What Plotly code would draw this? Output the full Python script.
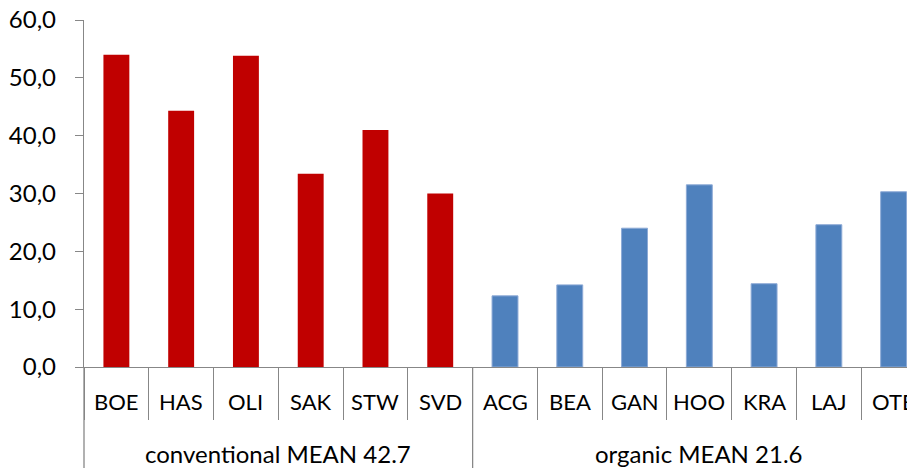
import plotly.graph_objects as go

# ---- data ----
conv_sites = ["BOE", "HAS", "OLI", "SAK", "STW", "SVD"]
conv_values = [54.0, 44.3, 53.8, 33.4, 41.0, 30.0]
org_sites = ["ACG", "BEA", "GAN", "HOO", "KRA", "LAJ", "OTE"]
org_values = [12.3, 14.2, 24.0, 31.5, 14.4, 24.6, 30.3]
group_labels = ["conventional MEAN 42.7", "organic MEAN 21.6"]
y_ticks = [0, 10, 20, 30, 40, 50, 60]

categories = conv_sites + org_sites
FONT = "Lato, Open Sans, sans-serif"
GRAY = "#878787"

fig = go.Figure()
fig.add_bar(x=conv_sites, y=conv_values, width=0.4,
            marker=dict(color="#C00000", line=dict(width=0)), name="conventional")
fig.add_bar(x=org_sites, y=org_values, width=0.4,
            marker=dict(color="#4F81BD", line=dict(color="#8DAAD6", width=1)), name="organic")

annotations = []
for c in categories:
    annotations.append(dict(x=c, xref="x", y=0, yref="paper", yshift=-34,
                            text=c, showarrow=False, yanchor="middle",
                            font=dict(family=FONT, size=22, color="#000000")))
group_pos = [(len(conv_sites) - 1) / 2, len(conv_sites) + (len(org_sites) - 1) / 2]
for lbl, xp in zip(group_labels, group_pos):
    annotations.append(dict(x=xp, xref="x", y=0, yref="paper", yshift=-86,
                            text=lbl, showarrow=False, yanchor="middle",
                            font=dict(family=FONT, size=24, color="#000000")))

shapes = [
    dict(type="line", xref="paper", x0=0, x1=0, yref="paper", y0=0, y1=-0.3,
         line=dict(color=GRAY, width=1.3)),
    dict(type="line", xref="x", x0=len(conv_sites) - 0.5, x1=len(conv_sites) - 0.5,
         yref="paper", y0=0, y1=-0.3, line=dict(color=GRAY, width=1.3)),
]

# page body has an 8px margin, so the figure is shrunk by 8px to fit the window
fig.update_layout(
    width=907, height=460,
    margin=dict(l=76, r=0, t=12, b=101, autoexpand=False),
    plot_bgcolor="white", paper_bgcolor="white",
    barmode="overlay", showlegend=False,
    separators=",.",
    font=dict(family=FONT, size=24, color="#000000"),
    annotations=annotations, shapes=shapes,
)
fig.update_xaxes(
    type="category", categoryorder="array", categoryarray=categories,
    range=[-0.5, 12.33], showticklabels=False, automargin=False,
    ticks="outside", tickson="boundaries", ticklen=52, tickwidth=1.3, tickcolor=GRAY,
    showline=True, linecolor=GRAY, linewidth=1.3, showgrid=False, zeroline=False,
)
fig.update_yaxes(
    range=[0, 60], tickvals=y_ticks, tickformat=".1f", automargin=False,
    ticks="outside", ticklen=8, tickwidth=1.3, tickcolor=GRAY,
    showline=True, linecolor=GRAY, linewidth=1.3, showgrid=False, zeroline=False,
    tickfont=dict(family=FONT, size=24, color="#000000"), ticklabelstandoff=14,
    ticklabeloverflow="allow",
)

fig.write_html("out.html")
